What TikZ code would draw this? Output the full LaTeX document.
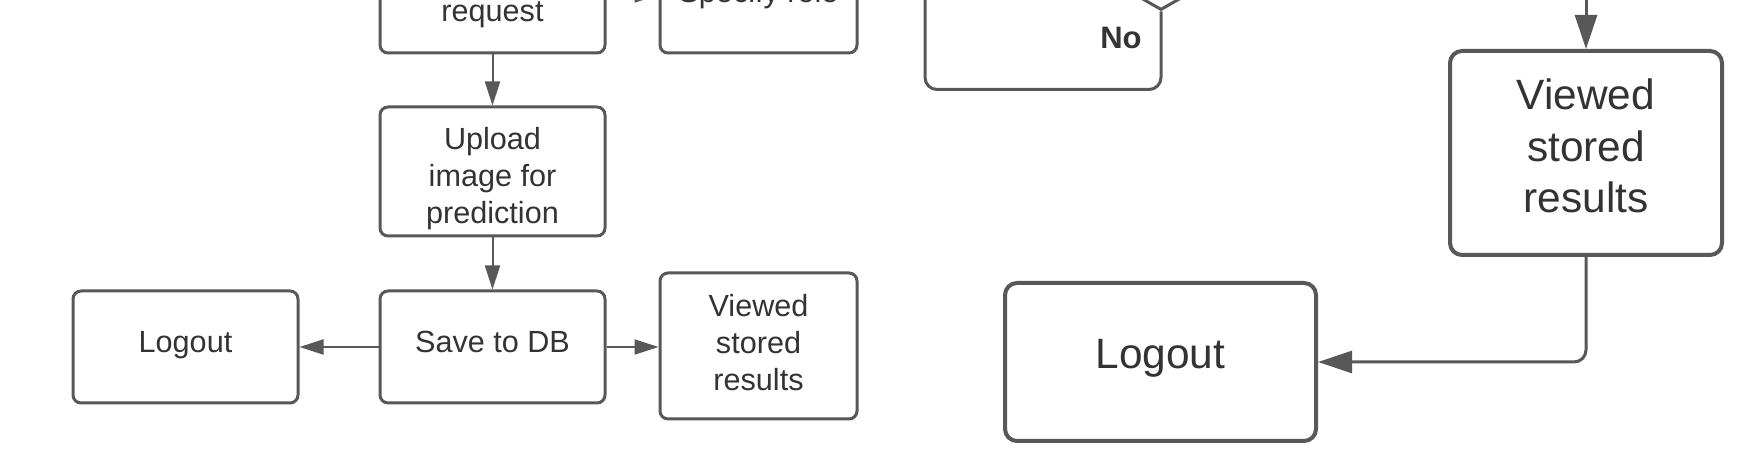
\documentclass[tikz,border=0pt]{standalone}
\usepackage{fontspec}
\setmainfont{Liberation Sans}
\usetikzlibrary{arrows.meta,shapes.geometric}
\definecolor{linec}{RGB}{88,88,88}
\definecolor{textc}{RGB}{51,51,51}
\begin{document}
\begin{tikzpicture}[x=0.5pt,y=-0.5pt,
  box/.style={draw=linec, line width=1.5pt, rounded corners=4pt, inner sep=0pt},
  bigbox/.style={draw=linec, line width=2pt, rounded corners=6pt, inner sep=0pt},
  tx/.style={text=textc, align=center, inner sep=0pt, font=\fontsize{15.3pt}{18.5pt}\selectfont},
  bigtx/.style={text=textc, align=center, inner sep=0pt, font=\fontsize{21.2pt}{25.8pt}\selectfont},
  conn/.style={draw=linec, line width=1pt, -{Triangle[length=12pt,width=7.5pt]}},
  bigconn/.style={draw=linec, line width=1.5pt, rounded corners=6pt, -{Triangle[length=17pt,width=11pt]}},
  loopline/.style={draw=linec, line width=1.5pt, rounded corners=6pt},
  decision/.style={draw=linec, line width=1.5pt, diamond, inner sep=0pt, minimum width=105pt, minimum height=60pt},
  lbl/.style={text=textc, inner sep=0pt, font=\fontsize{15.5pt}{18pt}\selectfont\bfseries}
]
\fill[white] (0,0) rectangle (1754,458);
\useasboundingbox (0,0) rectangle (1754,458);

% left flow
\node[box, minimum width=112.5pt, minimum height=42pt] (req) at (492.5,11) {};
\node[tx] (reqT) at ([yshift=-1.75pt]req.center) {request};
\node[box, minimum width=98.5pt, minimum height=58pt] (spec) at (758.5,-5) {};
\node[tx] (specT) at (spec.center) {Specify role};
\node[box, minimum width=112.5pt, minimum height=64.5pt] (upload) at (492.5,171.5) {};
\node[tx] (uploadT) at ([yshift=-3.4pt]upload.center) {Upload\\image for\\prediction};
\node[box, minimum width=112.5pt, minimum height=56pt] (save) at (492.5,347) {};
\node[tx] (saveT) at ([yshift=2.6pt]save.center) {Save to DB};
\node[box, minimum width=112.5pt, minimum height=56pt] (logoutS) at (185.5,347) {};
\node[tx] (logoutST) at ([yshift=1.1pt]logoutS.center) {Logout};
\node[box, minimum width=98.5pt, minimum height=73pt] (viewS) at (758.5,346) {};
\node[tx] (viewST) at ([yshift=1.7pt]viewS.center) {Viewed\\stored\\results};

\draw[conn] (req.east |- spec.west) -- (spec.west);
\draw[conn] (req.south) -- (upload.north);
\draw[conn] (upload.south) -- (save.north);
\draw[conn] (save.west) -- (logoutS.east);
\draw[conn] (save.east) -- (save.east -| viewS.west);

% right flow
\node[decision] (dec) at (1161,-50) {};
\coordinate (noend) at (925,-80);
\draw[loopline] (dec.south) -- ++(0,78) -| (noend);
\node[lbl] (no) at (1121,38) {No};

\node[bigbox, minimum width=136pt, minimum height=102pt] (viewB) at (1586,153) {};
\node[bigtx] (viewBT) at ([yshift=3.4pt]viewB.center) {Viewed\\stored\\results};
\node[bigbox, minimum width=155.5pt, minimum height=79pt] (logoutB) at (1160.5,362) {};
\node[bigtx] (logoutBT) at ([yshift=1.7pt]logoutB.center) {Logout};
\coordinate (vbin) at (1586,-40);
\draw[bigconn] (vbin) -- (viewB.north);
\draw[bigconn] (viewB.south) |- (logoutB.east);
\end{tikzpicture}
\end{document}
